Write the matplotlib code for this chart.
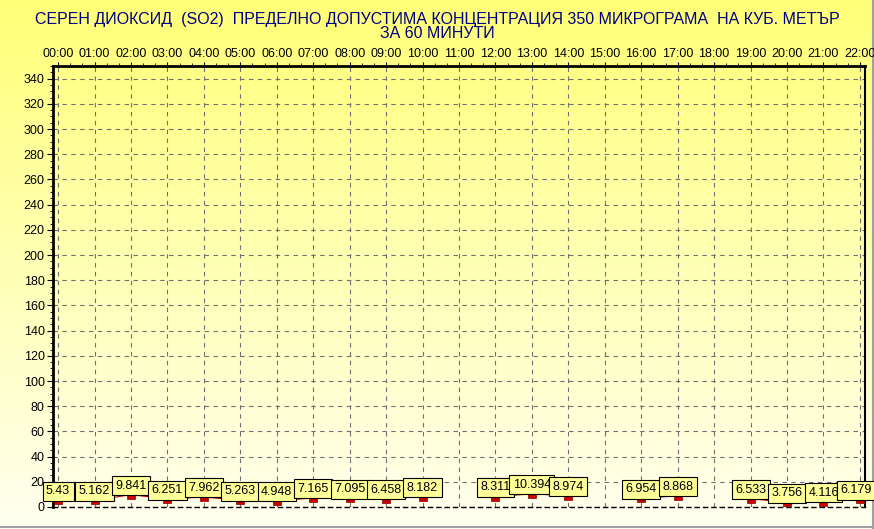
import numpy as np
import matplotlib
matplotlib.use('Agg')
import matplotlib.pyplot as plt
from matplotlib.colors import LinearSegmentedColormap
from matplotlib.ticker import MultipleLocator

plt.rcParams['font.family'] = ['Liberation Sans', 'DejaVu Sans']

title = ('СЕРЕН ДИОКСИД  (SO2)  ПРЕДЕЛНО ДОПУСТИМА КОНЦЕНТРАЦИЯ 350 МИКРОГРАМА  НА КУБ. МЕТЪР\n'
         'ЗА 60 МИНУТИ')
hours = list(range(23))
hour_labels = [f'{h:02d}:00' for h in hours]
so2 = [5.43, 5.162, 9.841, 6.251, 7.962, 5.263, 4.948, 7.165, 7.095, 6.458, 8.182,
       None, 8.311, 10.394, 8.974, None, 6.954, 8.868, None, 6.533, 3.756, 4.116, 6.179]
label_text = ['5.43', '5.162', '9.841', '6.251', '7.962', '5.263', '4.948', '7.165', '7.095',
              '6.458', '8.182', '', '8.311', '10.394', '8.974', '', '6.954', '8.868', '',
              '6.533', '3.756', '4.116', '6.179']
yticks = list(range(0, 341, 20))

vals = np.array([np.nan if v is None else v for v in so2])
x = np.array(hours)

fig = plt.figure(figsize=(8.74, 5.29), dpi=100)

# yellow -> cream background gradient
bg = fig.add_axes([0, 0, 1, 1], zorder=0)
cmap = LinearSegmentedColormap.from_list('yel', ['#ffff78', '#fffff0'])
bg.imshow(np.linspace(0, 1, 256).reshape(-1, 1), aspect='auto', cmap=cmap,
          extent=[0, 1, 0, 1])
bg.set_axis_off()
bg.plot([0, 1], [0.004, 0.004], color='#a0a0a0', lw=1.5, transform=bg.transAxes, clip_on=False)
bg.plot([0.9985, 0.9985], [0, 1], color='#a0a0a0', lw=1.5, transform=bg.transAxes, clip_on=False)

ax = fig.add_axes([0.0606, 0.0416, 0.9291, 0.8336], zorder=1)
ax.patch.set_alpha(0)

ax.plot(x, vals, color='#cc0000', lw=0.8, zorder=3)
ax.plot(x, vals, ls='none', marker='s', ms=6, mfc='#cc0000', mec='#880000', mew=0.5, zorder=4)

for xi, v, t in zip(x, vals, label_text):
    if np.isnan(v):
        continue
    dx = -3 if xi == hours[-1] else 0
    ax.annotate(t, (xi, v), xytext=(dx, 6.5), textcoords='offset points',
                ha='center', va='center', fontsize=9, zorder=5,
                bbox=dict(boxstyle='square,pad=0.28', fc='#ffff99', ec='black', lw=0.8))

ax.set_xlim(-0.14, 22.14)
ax.set_ylim(0, 350)
ax.set_xticks(hours)
ax.set_xticklabels(hour_labels)
ax.set_yticks(yticks)
ax.xaxis.tick_top()
ax.xaxis.set_minor_locator(MultipleLocator(1 / 3))
ax.yaxis.set_minor_locator(MultipleLocator(5))
ax.tick_params(axis='x', which='major', labelsize=9, length=3, pad=1)
ax.tick_params(axis='x', which='minor', length=2)
ax.tick_params(axis='y', which='major', labelsize=9, length=4, pad=2)
ax.tick_params(axis='y', which='minor', length=2)
ax.grid(True, ls=(0, (4, 4)), color='#707070', lw=0.8)

ax.spines['left'].set_linewidth(2)
ax.spines['top'].set_linewidth(2)
ax.spines['right'].set_linewidth(1.5)
ax.spines['bottom'].set_linestyle((0, (3, 3)))
ax.spines['bottom'].set_linewidth(1)

fig.text(0.5, 0.978, title, ha='center', va='top', fontsize=11.5, color='#000080',
         linespacing=0.95)

fig.savefig('out.png', dpi=100)
